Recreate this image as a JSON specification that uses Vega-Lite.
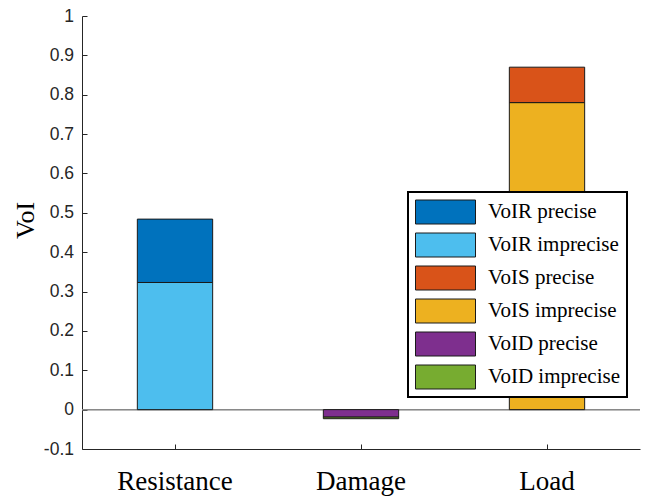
{
  "$schema": "https://vega.github.io/schema/vega-lite/v6.json",
  "width": 558,
  "height": 433,
  "autosize": "none",
  "padding": {"left": 82, "top": 16, "right": 9, "bottom": 48},
  "background": "white",
  "config": {"view": {"stroke": null}},
  "data": {
    "values": [
      {"variable": "Resistance", "series": "VoIR imprecise", "low": 0, "high": 0.323},
      {"variable": "Resistance", "series": "VoIR precise", "low": 0.323, "high": 0.484},
      {"variable": "Damage", "series": "VoID precise", "low": 0, "high": -0.019},
      {"variable": "Damage", "series": "VoID imprecise", "low": -0.019, "high": -0.023},
      {"variable": "Load", "series": "VoIS imprecise", "low": 0, "high": 0.78},
      {"variable": "Load", "series": "VoIS precise", "low": 0.78, "high": 0.87}
    ]
  },
  "layer": [
    {
      "mark": {"type": "rule", "color": "#8a8a8a", "strokeWidth": 1},
      "encoding": {
        "y": {
          "datum": 0,
          "type": "quantitative",
          "scale": {"domain": [-0.1, 1], "nice": false, "zero": false},
          "axis": {
            "title": "VoI",
            "titleFont": "Liberation Serif",
            "titleFontSize": 26,
            "titleFontWeight": "normal",
            "titleColor": "#000000",
            "titleX": -49,
            "titleY": 204,
            "titleAngle": 270,
            "titleAlign": "center",
            "titleBaseline": "alphabetic",
            "values": [-0.1, 0, 0.1, 0.2, 0.3, 0.4, 0.5, 0.6, 0.7, 0.8, 0.9, 1],
            "labelExpr": "datum.value < 0 ? '-0.1' : format(datum.value, '.1~f')",
            "labelOverlap": false,
            "labelAlign": "right",
            "labelFont": "Liberation Sans",
            "labelFontSize": 17.5,
            "labelColor": "#262626",
            "labelPadding": 13.5,
            "tickSize": -5,
            "tickColor": "#262626",
            "domainColor": "#262626",
            "grid": false
          }
        }
      }
    },
    {
      "mark": {"type": "bar", "width": {"band": 0.405}, "stroke": "#1a1a1a", "strokeWidth": 1, "opacity": 1},
      "encoding": {
        "x": {
          "field": "variable",
          "type": "nominal",
          "sort": ["Resistance", "Damage", "Load"],
          "scale": {"paddingInner": 0, "paddingOuter": 0},
          "axis": {
            "title": null,
            "labelAngle": 0,
            "labelFont": "Liberation Serif",
            "labelFontSize": 27,
            "labelColor": "#000000",
            "labelPadding": 24,
            "tickSize": -5,
            "tickColor": "#262626",
            "domainColor": "#262626",
            "domainWidth": 1
          }
        },
        "y": {
          "field": "low",
          "type": "quantitative",
          "scale": {"domain": [-0.1, 1], "nice": false, "zero": false},
          "axis": {
            "title": "VoI",
            "titleFont": "Liberation Serif",
            "titleFontSize": 26,
            "titleFontWeight": "normal",
            "titleColor": "#000000",
            "titleX": -49,
            "titleY": 204,
            "titleAngle": 270,
            "titleAlign": "center",
            "titleBaseline": "alphabetic",
            "values": [-0.1, 0, 0.1, 0.2, 0.3, 0.4, 0.5, 0.6, 0.7, 0.8, 0.9, 1],
            "labelExpr": "datum.value < 0 ? '-0.1' : format(datum.value, '.1~f')",
            "labelOverlap": false,
            "labelAlign": "right",
            "labelFont": "Liberation Sans",
            "labelFontSize": 17.5,
            "labelColor": "#262626",
            "labelPadding": 13.5,
            "tickSize": -5,
            "tickColor": "#262626",
            "domainColor": "#262626",
            "grid": false
          }
        },
        "y2": {"field": "high"},
        "color": {
          "field": "series",
          "type": "nominal",
          "scale": {
            "domain": ["VoIR precise", "VoIR imprecise", "VoIS precise", "VoIS imprecise", "VoID precise", "VoID imprecise"],
            "range": ["#0072BD", "#4DBEEE", "#D95319", "#EDB120", "#7E2F8E", "#77AC30"]
          },
          "legend": {
            "title": null,
            "orient": "none",
            "legendX": 326,
            "legendY": 176,
            "direction": "vertical",
            "symbolType": "M-1,-0.4H1V0.4H-1Z",
            "symbolSize": 3600,
            "clipHeight": 26,
            "symbolStrokeColor": "#1a1a1a",
            "symbolStrokeWidth": 1,
            "symbolOpacity": 1,
            "labelFont": "Liberation Serif",
            "labelFontSize": 21,
            "labelColor": "#000000",
            "labelOffset": 12,
            "labelLimit": 300,
            "rowPadding": 7,
            "padding": 7,
            "strokeColor": "#000000",
            "fillColor": "#ffffff",
            "cornerRadius": 0,
            "encode": {"legend": {"update": {"strokeWidth": {"value": 2}}}}
          }
        }
      }
    }
  ]
}
